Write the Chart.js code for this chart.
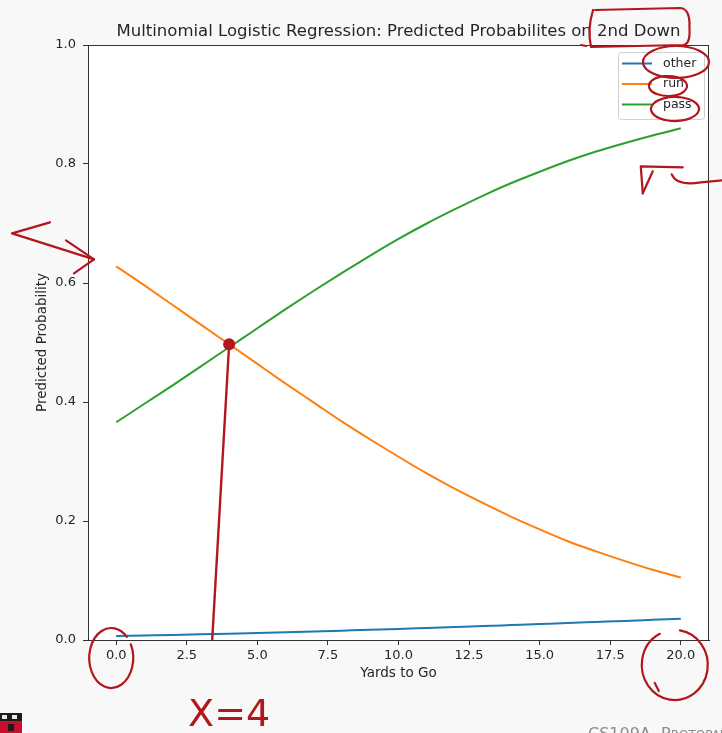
<!DOCTYPE html>
<html>
<head>
<meta charset="utf-8">
<script src="https://cdn.jsdelivr.net/npm/chart.js@4.4.1/dist/chart.umd.min.js"></script>
<style>
  html, body { margin: 0; padding: 0; background: #f8f8f8; }
  canvas { display: block; }
</style>
</head>
<body>
<canvas id="chart" width="722" height="733"></canvas>
<script>
// Yards to go on 2nd down and the model's predicted class probabilities
const yardsToGo = [0, 1, 2, 3, 4, 5, 6, 7, 8, 9, 10, 11, 12, 13, 14, 15, 16, 17, 18, 19, 20];
const probOther = [0.0067, 0.0076, 0.0085, 0.0095, 0.0106, 0.0118, 0.0130, 0.0143, 0.0157, 0.0171, 0.0186,
                   0.0202, 0.0218, 0.0234, 0.0251, 0.0268, 0.0285, 0.0303, 0.0321, 0.0340, 0.0359];
const probRun   = [0.628, 0.596, 0.563, 0.530, 0.497, 0.464, 0.431, 0.399, 0.367, 0.337, 0.308,
                   0.280, 0.254, 0.230, 0.207, 0.186, 0.166, 0.149, 0.133, 0.118, 0.105];
const probPass  = [0.366, 0.397, 0.428, 0.460, 0.492, 0.524, 0.556, 0.587, 0.617, 0.646, 0.674,
                   0.700, 0.724, 0.747, 0.768, 0.787, 0.805, 0.821, 0.835, 0.848, 0.860];

const seriesNames = ['other', 'run', 'pass'];
const xTickValues = [0, 2.5, 5, 7.5, 10, 12.5, 15, 17.5, 20];
const yTickValues = [0, 0.2, 0.4, 0.6, 0.8, 1.0];

// Crossing point of run and pass, with the ink stroke dropped to the x axis
const crossingX = [4.0, 3.4];
const crossingY = [0.497, 0.0];
const crossingLabel = 'X=4';

const TITLE = 'Multinomial Logistic Regression: Predicted Probabilites on 2nd Down';
const FONT = 'DejaVu Sans';
const INK = '#b3161c';
const TEXT = '#262626';

const seriesColors = { other: '#1f77b4', run: '#ff7f0e', pass: '#2ca02c' };
const seriesValues = { other: probOther, run: probRun, pass: probPass };

const datasets = seriesNames.map((name, k) => ({
  label: name,
  data: yardsToGo.map((x, i) => ({ x: x, y: seriesValues[name][i] })),
  borderColor: seriesColors[name],
  backgroundColor: seriesColors[name],
  borderWidth: 2,
  pointRadius: 0,
  cubicInterpolationMode: 'monotone',
  fill: false,
  order: 3 - k
}));

datasets.push({
  label: 'crossing',
  data: crossingX.map((x, i) => ({ x: x, y: crossingY[i] })),
  borderColor: INK,
  backgroundColor: INK,
  borderWidth: 2.4,
  pointRadius: [6, 0],
  pointBorderWidth: 0,
  fill: false,
  clip: false,
  order: 0
});

function ellipse(ctx, cx, cy, rx, ry, a0, a1) {
  ctx.beginPath();
  ctx.ellipse(cx, cy, rx, ry, 0, a0, a1);
  ctx.stroke();
}

function poly(ctx, pts) {
  ctx.beginPath();
  ctx.moveTo(pts[0][0], pts[0][1]);
  for (let i = 1; i < pts.length; i++) ctx.lineTo(pts[i][0], pts[i][1]);
  ctx.stroke();
}

const framePlugin = {
  id: 'frame',
  beforeDraw(chart) {
    const { ctx, chartArea: a, width, height } = chart;
    ctx.save();
    ctx.fillStyle = '#f8f8f8';
    ctx.fillRect(0, 0, width, height);
    ctx.fillStyle = '#ffffff';
    ctx.fillRect(a.left, a.top, a.right - a.left, a.bottom - a.top);
    ctx.restore();
  },
  afterDatasetsDraw(chart) {
    const { ctx, chartArea: a } = chart;
    ctx.save();
    // spines
    ctx.strokeStyle = '#333333';
    ctx.lineWidth = 1;
    ctx.strokeRect(Math.round(a.left) + 0.5, Math.round(a.top) + 0.5,
                   Math.round(a.right - a.left) - 1, Math.round(a.bottom - a.top));

    // legend in the upper right corner
    const rowH = 20.5;
    const boxW = 86, boxH = 67;
    const bx = a.right - 5 - boxW;
    const by = a.top + 7;
    ctx.fillStyle = 'rgba(255,255,255,0.85)';
    ctx.strokeStyle = '#d0d0d0';
    ctx.lineWidth = 1;
    ctx.beginPath();
    ctx.roundRect(bx + 0.5, by + 0.5, boxW, boxH, 3);
    ctx.fill();
    ctx.stroke();
    ctx.font = '12.5px "' + FONT + '"';
    ctx.textBaseline = 'middle';
    ctx.textAlign = 'left';
    seriesNames.forEach((n, i) => {
      const yy = by + 11.5 + i * rowH;
      ctx.strokeStyle = seriesColors[n];
      ctx.lineWidth = 2;
      ctx.beginPath();
      ctx.moveTo(bx + 4, yy);
      ctx.lineTo(bx + 34, yy);
      ctx.stroke();
      ctx.fillStyle = TEXT;
      ctx.fillText(n, bx + 45, yy);
    });
    chart.$legendBox = { x: bx, y: by };
    ctx.restore();
  },
  afterDraw(chart) {
    const { ctx, chartArea: a, scales } = chart;
    const xs = scales.x, ys = scales.y;
    ctx.save();

    // title
    ctx.font = '16.5px "' + FONT + '"';
    ctx.fillStyle = TEXT;
    ctx.textAlign = 'center';
    ctx.textBaseline = 'middle';
    const cx = (a.left + a.right) / 2;
    ctx.fillText(TITLE, cx, 32);
    const fullW = ctx.measureText(TITLE).width;
    const tailW = ctx.measureText('2nd Down').width;
    const titleRight = cx + fullW / 2;

    // ink marks
    ctx.strokeStyle = INK;
    ctx.fillStyle = INK;
    ctx.lineWidth = 2.2;
    ctx.lineCap = 'round';
    ctx.lineJoin = 'round';

    // loop around the end of the title
    const tl = titleRight - tailW - 8, tr = titleRight + 9;
    ctx.beginPath();
    ctx.moveTo(tl + 4, 10);
    ctx.quadraticCurveTo(tl - 2, 30, tl + 2, 47);
    ctx.lineTo(tr - 6, 45);
    ctx.quadraticCurveTo(tr + 1, 44, tr, 28);
    ctx.quadraticCurveTo(tr + 1, 8, tr - 10, 8);
    ctx.lineTo(tl + 6, 10);
    ctx.stroke();
    // trailing stroke running back along the top of the axes
    poly(ctx, [[tl - 3, 46], [tl - 8, 45]]);

    // loops around the legend labels
    const lb = chart.$legendBox;
    ellipse(ctx, lb.x + 58, lb.y + 10, 33, 16, 0, Math.PI * 2);
    ellipse(ctx, lb.x + 50, lb.y + 34, 19, 10, -0.2, Math.PI * 1.9);
    ellipse(ctx, lb.x + 57, lb.y + 57, 24, 12, 0.3, Math.PI * 2.1);

    // loops around the first and last x tick labels
    const x0 = xs.getPixelForValue(xTickValues[0]);
    const xN = xs.getPixelForValue(xTickValues[xTickValues.length - 1]);
    ellipse(ctx, x0 - 5, a.bottom + 18, 22, 30, -Math.PI * 0.15, Math.PI * 1.75);
    ellipse(ctx, xN - 6, a.bottom + 25, 33, 35, -Math.PI * 0.45, Math.PI * 1.35);
    poly(ctx, [[xN - 26, a.bottom + 43], [xN - 22, a.bottom + 51]]);

    // arrow into the y axis at the starting run probability
    const yRun0 = ys.getPixelForValue(probRun[0]);
    const ax = a.left + 6;
    poly(ctx, [[50, yRun0 - 44], [12, yRun0 - 33], [ax, yRun0 - 7]]);
    poly(ctx, [[ax - 28, yRun0 - 26], [ax, yRun0 - 7], [ax - 20, yRun0 + 7]]);

    // bent arrow next to the pass curve's end
    const yPassN = ys.getPixelForValue(probPass[probPass.length - 1]);
    poly(ctx, [[xN - 38, yPassN + 65], [xN - 40, yPassN + 38], [xN + 2, yPassN + 39]]);
    poly(ctx, [[xN - 38, yPassN + 65], [xN - 28, yPassN + 43]]);
    ctx.beginPath();
    ctx.moveTo(xN - 9, yPassN + 46);
    ctx.quadraticCurveTo(xN - 4, yPassN + 58, xN + 20, yPassN + 54);
    ctx.lineTo(xN + 42, yPassN + 52);
    ctx.stroke();

    // handwritten label under the crossing stroke
    ctx.font = '38px "' + FONT + '"';
    ctx.textAlign = 'center';
    ctx.textBaseline = 'alphabetic';
    ctx.fillText(crossingLabel, xs.getPixelForValue(crossingX[0]), 726);

    // footer
    ctx.fillStyle = '#8c8c8c';
    ctx.textAlign = 'left';
    ctx.font = '16px "' + FONT + '"';
    ctx.fillText('CS109A, P', 588, 739);
    const w1 = ctx.measureText('CS109A, P').width;
    ctx.font = '12px "' + FONT + '"';
    ctx.fillText('ROTOPAPAS', 588 + w1, 739);

    // shield in the lower left corner
    ctx.fillStyle = '#1c1c1c';
    ctx.fillRect(0, 713, 22, 8);
    ctx.fillStyle = '#e8e8e8';
    ctx.fillRect(2, 715, 5, 4);
    ctx.fillRect(12, 715, 5, 4);
    ctx.fillStyle = '#c8102e';
    ctx.fillRect(0, 721, 22, 12);
    ctx.fillStyle = '#1c1c1c';
    ctx.fillRect(8, 724, 6, 7);

    ctx.restore();
  }
};

new Chart(document.getElementById('chart'), {
  type: 'line',
  data: { datasets: datasets },
  options: {
    responsive: false,
    animation: false,
    devicePixelRatio: 1,
    layout: { padding: { top: 45, right: 13, bottom: 0, left: 0 } },
    plugins: {
      legend: { display: false },
      title: { display: false },
      tooltip: { enabled: false }
    },
    scales: {
      x: {
        type: 'linear',
        min: -1,
        max: 21,
        afterBuildTicks: (s) => { s.ticks = xTickValues.map(v => ({ value: v })); },
        afterFit: (s) => { s.height = 93; },
        ticks: {
          callback: (v) => Number(v).toFixed(1),
          color: TEXT,
          font: { family: FONT, size: 13 },
          padding: 3,
          maxRotation: 0,
          autoSkip: false
        },
        grid: { drawOnChartArea: false, drawTicks: true, tickLength: 5, color: '#333333', lineWidth: 1 },
        border: { display: true, color: '#333333', width: 1 },
        title: {
          display: true,
          text: 'Yards to Go',
          color: TEXT,
          font: { family: FONT, size: 13.5 },
          padding: { top: 0, bottom: 51 }
        }
      },
      y: {
        type: 'linear',
        min: 0,
        max: 1,
        afterBuildTicks: (s) => { s.ticks = yTickValues.map(v => ({ value: v })); },
        afterFit: (s) => { s.width = 88; },
        ticks: {
          callback: (v) => Number(v).toFixed(1),
          color: TEXT,
          font: { family: FONT, size: 13 },
          padding: 7
        },
        grid: { drawOnChartArea: false, drawTicks: true, tickLength: 5, color: '#333333', lineWidth: 1 },
        border: { display: true, color: '#333333', width: 1 },
        title: {
          display: true,
          text: 'Predicted Probability',
          color: TEXT,
          font: { family: FONT, size: 13.5 },
          padding: { top: 34, bottom: 0 }
        }
      }
    }
  },
  plugins: [framePlugin]
});
</script>
</body>
</html>
